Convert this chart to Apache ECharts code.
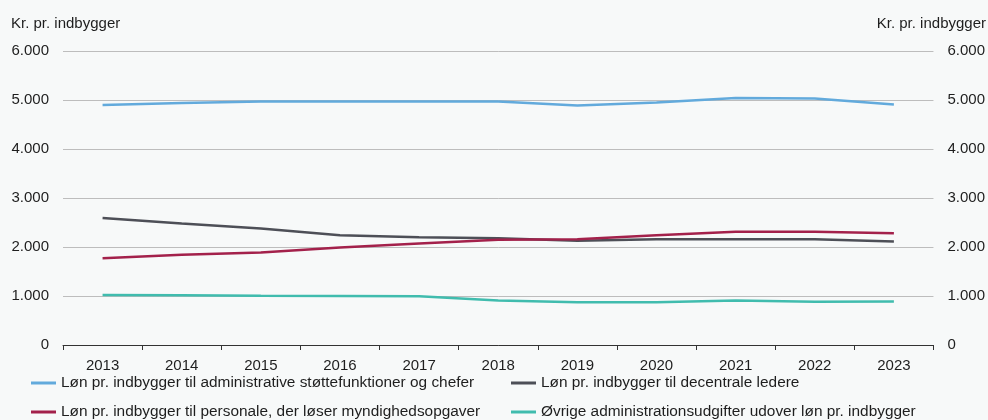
<!DOCTYPE html>
<html>
<head>
<meta charset="utf-8">
<script src="https://cdn.jsdelivr.net/npm/echarts@6/dist/echarts.min.js"></script>
<style>
html,body{margin:0;padding:0;background:#f7f9f9;}
#chart{width:988px;height:420px;}
</style>
</head>
<body>
<div id="chart"></div>
<script>
var years = ['2013','2014','2015','2016','2017','2018','2019','2020','2021','2022','2023'];
var seriesNames = [
  'Løn pr. indbygger til administrative støttefunktioner og chefer',
  'Løn pr. indbygger til decentrale ledere',
  'Løn pr. indbygger til personale, der løser myndighedsopgaver',
  'Øvrige administrationsudgifter udover løn pr. indbygger'
];
var adminStotte = [4900, 4940, 4970, 4970, 4970, 4970, 4890, 4950, 5040, 5030, 4910];
var decentraleLedere = [2590, 2480, 2380, 2240, 2200, 2180, 2130, 2160, 2160, 2160, 2110];
var myndighed = [1770, 1840, 1890, 1990, 2070, 2150, 2160, 2240, 2310, 2310, 2280];
var ovrige = [1020, 1015, 1005, 1000, 995, 910, 870, 870, 910, 885, 890];
var yAxisTitle = 'Kr. pr. indbygger';

var colors = ['#62aadc', '#4d4f57', '#a3214b', '#40bcae'];
var font = 'Liberation Sans, Arial, sans-serif';
var txt = '#1e1e1e';

function fmt(v){ return String(v).replace(/\B(?=(\d{3})+(?!\d))/g, '.'); }

var chart = echarts.init(document.getElementById('chart'), null, {renderer:'canvas'});
var yCommon = {
  type: 'value', min: 0, max: 6000, interval: 1000,
  axisLine: {show: false}, axisTick: {show: false},
  axisLabel: {fontSize: 15, color: txt, fontFamily: font, margin: 14, formatter: fmt},
  splitLine: {show: true, lineStyle: {color: '#bdbdbd', width: 1}}
};
var data = [adminStotte, decentraleLedere, myndighed, ovrige];
var legendPos = [[31, 375], [511, 375], [31, 404], [511, 404]];
function mkLegend(i){
  return {
    data: [seriesNames[i]], left: legendPos[i][0], top: legendPos[i][1], padding: 0,
    icon: 'rect', itemWidth: 25, itemHeight: 3,
    textStyle: {fontSize: 15.4, color: txt, fontFamily: font, lineHeight: 16}
  };
}
chart.setOption({
  backgroundColor: '#f7f9f9',
  animation: false,
  title: [
    {text: yAxisTitle, left: 11, top: 16, padding: 0, textStyle: {fontSize: 15, fontWeight: 'normal', color: txt, fontFamily: font}},
    {text: yAxisTitle, right: 2, top: 16, padding: 0, textStyle: {fontSize: 15, fontWeight: 'normal', color: txt, fontFamily: font}}
  ],
  grid: {left: 63, right: 54, top: 51, bottom: 75, containLabel: false},
  legend: [mkLegend(0), mkLegend(1), mkLegend(2), mkLegend(3)],
  xAxis: {
    type: 'category', data: years, boundaryGap: true,
    axisLine: {show: true, lineStyle: {color: '#333', width: 1}},
    axisTick: {show: true, length: 5, lineStyle: {color: '#333'}},
    axisLabel: {fontSize: 15, color: txt, fontFamily: font, margin: 13},
    splitLine: {show: false}
  },
  yAxis: [
    Object.assign({}, yCommon, {position: 'left'}),
    Object.assign({}, yCommon, {position: 'right', splitLine: {show: false}})
  ],
  series: seriesNames.map(function(n, i){
    return {
      name: n, type: 'line', data: data[i], yAxisIndex: 0,
      symbol: 'none', smooth: false,
      lineStyle: {color: colors[i], width: 2.5},
      itemStyle: {color: colors[i]}
    };
  })
});
</script>
</body>
</html>
